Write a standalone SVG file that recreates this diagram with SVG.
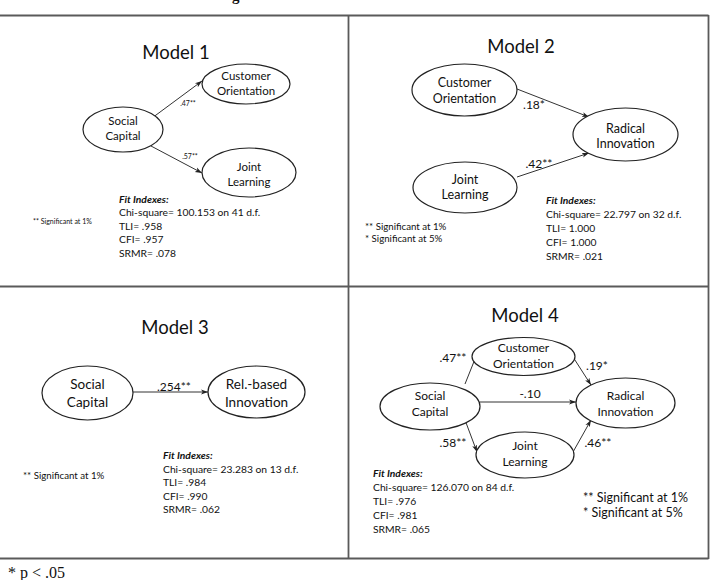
<svg xmlns="http://www.w3.org/2000/svg" width="713" height="580" viewBox="0 0 713 580">
<defs>
<marker id="ah" viewBox="0 0 10 10" refX="10" refY="5" markerWidth="7" markerHeight="7" markerUnits="userSpaceOnUse" orient="auto">
<path d="M0,1.5 L10,5 L0,8.5 L2.5,5 Z" fill="#222"/>
</marker>
<style>
.t{font-family:Lato,"Liberation Sans",sans-serif;fill:#111}
.ttl{font-size:18.5px;text-anchor:middle}
.nd{text-anchor:middle}
.fi{font-size:10.3px}
.fib{font-weight:bold;font-style:italic}
.el{fill:#fff;stroke:#222;stroke-width:1.2}
.ar{stroke:#333;stroke-width:1;fill:none;marker-end:url(#ah)}
.tb{stroke:#5a5a5a;stroke-width:1.8;fill:none}
</style>
</defs>
<rect width="713" height="580" fill="#fff"/>
<text x="232" y="1" font-family="Liberation Serif,serif" font-weight="bold" font-size="15" fill="#111">g</text>
<g id="table">
<line class="tb" x1="0" y1="15.5" x2="708.5" y2="15.5"/>
<line class="tb" x1="0" y1="286.5" x2="708.5" y2="286.5"/>
<line class="tb" x1="0" y1="558.5" x2="708.5" y2="558.5"/>
<line class="tb" x1="348.5" y1="15" x2="348.5" y2="559"/>
<line class="tb" x1="708.5" y1="15" x2="708.5" y2="559"/>
</g>
<g id="connectors">
<line class="ar" x1="152" y1="118" x2="202" y2="81"/>
<line class="ar" x1="151" y1="146" x2="202" y2="173"/>
<line class="ar" x1="517" y1="89" x2="589" y2="117"/>
<line class="ar" x1="517" y1="177" x2="589" y2="153"/>
<line class="ar" x1="133" y1="392" x2="208" y2="392"/>
<line class="ar" x1="465" y1="384" x2="477" y2="354"/>
<line class="ar" x1="465" y1="420" x2="477" y2="452"/>
<line class="ar" x1="480" y1="402" x2="576" y2="402"/>
<line class="ar" x1="573" y1="357" x2="591" y2="385"/>
<line class="ar" x1="573" y1="452" x2="591" y2="420"/>
</g>
<g id="model1">
<text class="t ttl" x="176" y="59">Model 1</text>
<g id="m1-co"><ellipse class="el" cx="246" cy="84" rx="44" ry="20"/>
<text class="t nd" font-size="11.5" x="246" y="80">Customer</text><text class="t nd" font-size="11.5" x="246" y="95">Orientation</text></g>
<g id="m1-sc"><ellipse class="el" cx="123" cy="129.5" rx="40" ry="22.5"/>
<text class="t nd" font-size="11.5" x="123" y="125">Social</text><text class="t nd" font-size="11.5" x="123" y="140">Capital</text></g>
<g id="m1-jl"><ellipse class="el" cx="249" cy="172.5" rx="47" ry="24.5"/>
<text class="t nd" font-size="11.5" x="249" y="171">Joint</text><text class="t nd" font-size="11.5" x="249" y="186">Learning</text></g>
<text class="t nd" font-size="7" x="188" y="106">.47**</text>
<text class="t nd" font-size="7" x="190" y="159">.57**</text>
<text class="t fi fib" x="119" y="203">Fit Indexes:</text>
<text class="t fi" x="119" y="216">Chi-square= 100.153 on 41 d.f.</text>
<text class="t fi" x="119" y="229.5">TLI= .958</text>
<text class="t fi" x="119" y="243">CFI= .957</text>
<text class="t fi" x="119" y="256.5">SRMR= .078</text>
<text class="t" font-size="7" x="33" y="224">** Significant at 1%</text>
</g>
<g id="model2">
<text class="t ttl" x="521" y="53">Model 2</text>
<g id="m2-co"><ellipse class="el" cx="464.5" cy="90" rx="52.5" ry="26"/>
<text class="t nd" font-size="12.5" x="464.5" y="87">Customer</text><text class="t nd" font-size="12.5" x="464.5" y="103">Orientation</text></g>
<g id="m2-ri"><ellipse class="el" cx="625.5" cy="134.5" rx="52.5" ry="26.5"/>
<text class="t nd" font-size="12.5" x="625.5" y="133">Radical</text><text class="t nd" font-size="12.5" x="625.5" y="148">Innovation</text></g>
<g id="m2-jl"><ellipse class="el" cx="465" cy="187.5" rx="52" ry="25.5"/>
<text class="t nd" font-size="12.5" x="465" y="184">Joint</text><text class="t nd" font-size="12.5" x="465" y="199">Learning</text></g>
<text class="t nd" font-size="12" x="534" y="109">.18*</text>
<text class="t nd" font-size="12" x="539" y="168">.42**</text>
<text class="t fi fib" x="546" y="204">Fit Indexes:</text>
<text class="t fi" x="546" y="218">Chi-square= 22.797 on 32 d.f.</text>
<text class="t fi" x="546" y="232">TLI= 1.000</text>
<text class="t fi" x="546" y="246">CFI= 1.000</text>
<text class="t fi" x="546" y="260">SRMR= .021</text>
<text class="t" font-size="9.7" x="365" y="230">** Significant at 1%</text>
<text class="t" font-size="9.7" x="365" y="242">* Significant at 5%</text>
</g>
<g id="model3">
<text class="t ttl" x="175" y="334">Model 3</text>
<g id="m3-sc"><ellipse class="el" cx="87.5" cy="393" rx="45.5" ry="27"/>
<text class="t nd" font-size="13.5" x="87.5" y="389">Social</text><text class="t nd" font-size="13.5" x="87.5" y="407">Capital</text></g>
<g id="m3-ri"><ellipse class="el" cx="256.5" cy="392" rx="48.5" ry="26"/>
<text class="t nd" font-size="13.5" x="256.5" y="389">Rel.-based</text><text class="t nd" font-size="13.5" x="256.5" y="407">Innovation</text></g>
<text class="t nd" font-size="12" x="174" y="391">.254**</text>
<text class="t fi fib" x="163" y="459">Fit Indexes:</text>
<text class="t fi" x="163" y="473">Chi-square= 23.283 on 13 d.f.</text>
<text class="t fi" x="163" y="486">TLI= .984</text>
<text class="t fi" x="163" y="499.5">CFI= .990</text>
<text class="t fi" x="163" y="513">SRMR= .062</text>
<text class="t" font-size="9.7" x="23" y="479">** Significant at 1%</text>
</g>
<g id="model4">
<text class="t ttl" x="525" y="322">Model 4</text>
<g id="m4-co"><ellipse class="el" cx="523.5" cy="356.5" rx="51.5" ry="19"/>
<text class="t nd" font-size="12" x="523.5" y="352">Customer</text><text class="t nd" font-size="12" x="523.5" y="368">Orientation</text></g>
<g id="m4-sc"><ellipse class="el" cx="430" cy="406.5" rx="50" ry="23.5"/>
<text class="t nd" font-size="12" x="430" y="400">Social</text><text class="t nd" font-size="12" x="430" y="416">Capital</text></g>
<g id="m4-ri"><ellipse class="el" cx="625.5" cy="403" rx="49.5" ry="25"/>
<text class="t nd" font-size="12" x="625.5" y="400">Radical</text><text class="t nd" font-size="12" x="625.5" y="416">Innovation</text></g>
<g id="m4-jl"><ellipse class="el" cx="525" cy="455" rx="49" ry="23"/>
<text class="t nd" font-size="12" x="525" y="450">Joint</text><text class="t nd" font-size="12" x="525" y="466">Learning</text></g>
<text class="t nd" font-size="12" x="453" y="362">.47**</text>
<text class="t nd" font-size="12" x="597" y="370">.19*</text>
<text class="t nd" font-size="12" x="530" y="398">-.10</text>
<text class="t nd" font-size="12" x="453" y="447">.58**</text>
<text class="t nd" font-size="12" x="598" y="447">.46**</text>
<text class="t fi fib" x="373" y="477">Fit Indexes:</text>
<text class="t fi" x="373" y="491">Chi-square= 126.070 on 84 d.f.</text>
<text class="t fi" x="373" y="505">TLI= .976</text>
<text class="t fi" x="373" y="518.5">CFI= .981</text>
<text class="t fi" x="373" y="533">SRMR= .065</text>
<text class="t" font-size="12.5" x="583" y="502">** Significant at 1%</text>
<text class="t" font-size="12.5" x="583" y="517">* Significant at 5%</text>
</g>
<text x="8" y="578" font-family="Liberation Serif,serif" font-size="16" fill="#111">* p &lt; .05</text>
</svg>
